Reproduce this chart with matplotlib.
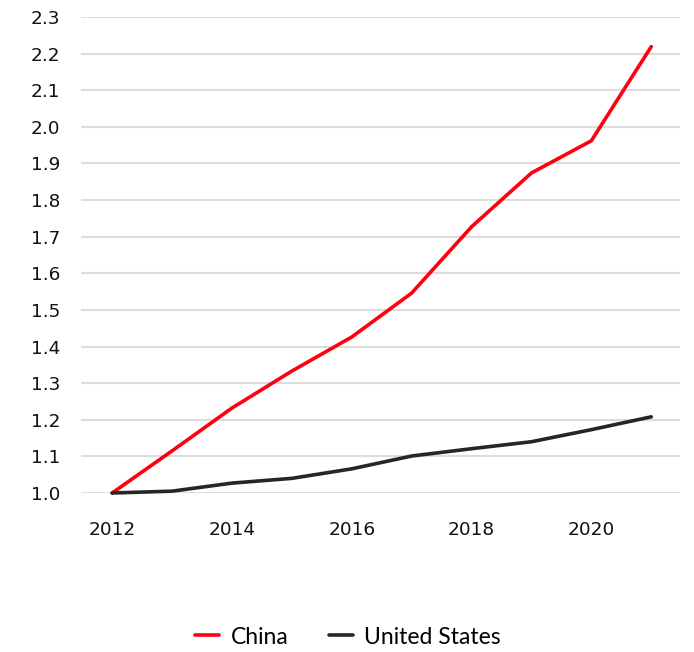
import matplotlib.pyplot as plt

years = [2012, 2013, 2014, 2015, 2016, 2017, 2018, 2019, 2020, 2021]
china = [1.0, 1.115, 1.232, 1.333, 1.426, 1.546, 1.727, 1.874, 1.962, 2.219]
united_states = [1.0, 1.005, 1.027, 1.040, 1.066, 1.101, 1.121, 1.140, 1.173, 1.208]
x_ticks = [2012, 2014, 2016, 2018, 2020]
y_ticks = [1.0, 1.1, 1.2, 1.3, 1.4, 1.5, 1.6, 1.7, 1.8, 1.9, 2.0, 2.1, 2.2, 2.3]

fig = plt.figure(figsize=(6.94, 6.52), dpi=100)
ax = fig.add_axes([81 / 694, 1 - 493 / 652, (680 - 81) / 694, (493 - 17) / 652])

ax.plot(years, china, color="#ff000f", lw=2.6, label="China", clip_on=False,
        solid_capstyle="round", zorder=3)
ax.plot(years, united_states, color="#262626", lw=2.6, label="United States",
        clip_on=False, solid_capstyle="round", zorder=3)

ax.set_xlim(2011.48, 2021.48)
ax.set_ylim(1.0, 2.3)
ax.set_yticks(y_ticks)
ax.set_yticklabels([f"{v:.1f}" for v in y_ticks])
ax.set_xticks(x_ticks)
ax.set_xticklabels([str(v) for v in x_ticks])

ax.grid(axis="y", color="#dcdcdc", lw=1.5)
ax.set_axisbelow(True)
for s in ax.spines.values():
    s.set_visible(False)
ax.tick_params(axis="both", length=0, labelsize=13.3, colors="#111111")
ax.tick_params(axis="y", pad=15)
ax.tick_params(axis="x", pad=20)

fig.legend(loc="center", bbox_to_anchor=(348 / 694, 1 - 637 / 652), ncol=2,
           frameon=False, handlelength=1.05, columnspacing=1.75,
           handletextpad=0.5, prop={"family": "Lato", "size": 16.5})

fig.savefig("out.png", dpi=100)
